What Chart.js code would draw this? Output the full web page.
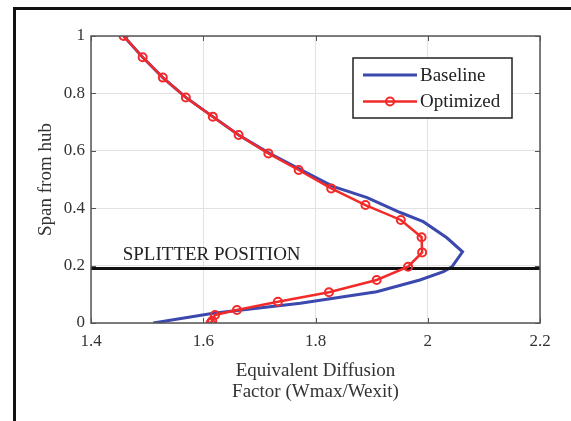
<!DOCTYPE html>
<html>
<head>
<meta charset="utf-8">
<title>Equivalent Diffusion Factor vs span</title>
<script src="https://cdn.jsdelivr.net/npm/chart.js@4.4.1/dist/chart.umd.min.js"></script>
<style>
  html, body { margin: 0; padding: 0; background: #fff; }
  #wrap { position: relative; width: 571px; height: 421px; overflow: hidden; }
  #frame { position: absolute; left: 13px; top: 7px; width: 600px; height: 500px;
           border-top: 3px solid #111; border-left: 3px solid #111; }
  #chart { position: absolute; left: 0; top: 0; }
</style>
</head>
<body>
<div id="wrap">
  <div id="frame"></div>
  <canvas id="chart" width="571" height="421"></canvas>
</div>
<script>
'use strict';

// --- data ---
const baselineX = [1.511, 1.618, 1.773, 1.832, 1.909, 1.986, 2.028, 2.043, 2.062, 2.034,
                   1.992, 1.951, 1.892, 1.831, 1.775, 1.718, 1.663, 1.617, 1.569, 1.528, 1.492, 1.458];
const baselineY = [0, 0.034, 0.069, 0.086, 0.109, 0.150, 0.179, 0.196, 0.248, 0.297,
                   0.353, 0.385, 0.437, 0.476, 0.533, 0.591, 0.655, 0.719, 0.786, 0.855, 0.926, 1.0];

const optimizedX = [1.458, 1.492, 1.528, 1.569, 1.617, 1.663, 1.716, 1.770, 1.828, 1.889, 1.952,
                    1.989, 1.990, 1.965, 1.909, 1.824, 1.733, 1.660, 1.621, 1.616, 1.613];
const optimizedY = [1.0, 0.926, 0.855, 0.786, 0.719, 0.655, 0.591, 0.533, 0.469, 0.411, 0.359,
                    0.299, 0.246, 0.196, 0.150, 0.107, 0.074, 0.045, 0.028, 0.008, 0];

const splitterSpan = 0.19;
const splitterText = 'SPLITTER POSITION';

const seriesNames = ['Baseline', 'Optimized'];
const xTicks = [1.4, 1.6, 1.8, 2.0, 2.2];
const xTickLabels = ['1.4', '1.6', '1.8', '2', '2.2'];
const yTicks = [0, 0.2, 0.4, 0.6, 0.8, 1.0];
const yTickLabels = ['0', '0.2', '0.4', '0.6', '0.8', '1'];
const xTitle = ['Equivalent Diffusion', 'Factor (Wmax/Wexit)'];
const yTitle = 'Span from hub';

// --- styles ---
const FONT = "'Liberation Serif', 'Times New Roman', serif";
const BLUE = '#3b48ae';
const RED = '#f22a2a';
const TEXT = '#333';

const toPoints = (xs, ys) => xs.map((x, i) => ({ x: x, y: ys[i] }));

// MATLAB-like axes box with inward ticks, the splitter label and the in-plot legend
const figureDecor = {
    id: 'figureDecor',
    afterDatasetsDraw(chart) {
        const { ctx, chartArea: a, scales: { x, y } } = chart;
        ctx.save();

        // box
        ctx.strokeStyle = '#555';
        ctx.lineWidth = 1.5;
        ctx.strokeRect(a.left, a.top, a.right - a.left, a.bottom - a.top);

        // inward ticks on all four sides
        const tl = 5;
        ctx.lineWidth = 1;
        ctx.beginPath();
        xTicks.forEach(v => {
            const px = Math.round(x.getPixelForValue(v)) + 0.5;
            ctx.moveTo(px, a.bottom); ctx.lineTo(px, a.bottom - tl);
            ctx.moveTo(px, a.top); ctx.lineTo(px, a.top + tl);
        });
        yTicks.forEach(v => {
            const py = Math.round(y.getPixelForValue(v)) + 0.5;
            ctx.moveTo(a.left, py); ctx.lineTo(a.left + tl, py);
            ctx.moveTo(a.right, py); ctx.lineTo(a.right - tl, py);
        });
        ctx.stroke();

        // splitter label
        ctx.fillStyle = '#222';
        ctx.font = '19px ' + FONT;
        ctx.textAlign = 'left';
        ctx.textBaseline = 'alphabetic';
        ctx.fillText(splitterText, x.getPixelForValue(1.4565), y.getPixelForValue(0.22));

        // legend
        const lx = a.right - 187, ly = a.top + 22, lw = 159, lh = 60;
        ctx.fillStyle = '#fff';
        ctx.fillRect(lx, ly, lw, lh);
        ctx.strokeStyle = '#222';
        ctx.lineWidth = 1.5;
        ctx.strokeRect(lx, ly, lw, lh);

        chart.data.datasets.slice(0, 2).forEach((ds, i) => {
            const rowY = ly + 17 + i * 26.5;
            ctx.strokeStyle = ds.borderColor;
            ctx.lineWidth = ds.borderWidth;
            ctx.beginPath();
            ctx.moveTo(lx + 10, rowY);
            ctx.lineTo(lx + 64, rowY);
            ctx.stroke();
            if (ds.pointRadius > 0) {
                ctx.lineWidth = ds.pointBorderWidth;
                ctx.beginPath();
                ctx.arc(lx + 37, rowY, ds.pointRadius, 0, Math.PI * 2);
                ctx.stroke();
            }
            ctx.fillStyle = '#222';
            ctx.textBaseline = 'middle';
            ctx.fillText(ds.label, lx + 67, rowY + 1);
        });

        ctx.restore();
    }
};

new Chart(document.getElementById('chart'), {
    type: 'scatter',
    data: {
        datasets: [
            {
                label: seriesNames[0],
                data: toPoints(baselineX, baselineY),
                showLine: true,
                borderColor: BLUE,
                borderWidth: 3,
                pointRadius: 0,
                tension: 0,
                order: 3
            },
            {
                label: seriesNames[1],
                data: toPoints(optimizedX, optimizedY),
                showLine: true,
                borderColor: RED,
                borderWidth: 2.5,
                pointRadius: 4,
                pointBorderWidth: 2,
                pointBorderColor: RED,
                pointBackgroundColor: 'rgba(0,0,0,0)',
                tension: 0,
                order: 1
            },
            {
                label: 'splitter',
                data: [{ x: xTicks[0], y: splitterSpan }, { x: xTicks[xTicks.length - 1], y: splitterSpan }],
                showLine: true,
                borderColor: '#111',
                borderWidth: 3,
                pointRadius: 0,
                order: 2
            }
        ]
    },
    options: {
        responsive: false,
        devicePixelRatio: 1,
        animation: false,
        layout: { padding: { left: 0, top: 36, right: 31, bottom: 0 } },
        plugins: {
            legend: { display: false },
            tooltip: { enabled: false }
        },
        scales: {
            x: {
                type: 'linear',
                position: 'bottom',
                min: 1.4,
                max: 2.2,
                afterBuildTicks: s => { s.ticks = xTicks.map(v => ({ value: v })); },
                afterFit: s => { s.height = 98; },
                grid: { color: '#e2e2e2', lineWidth: 1, drawTicks: false },
                border: { display: false },
                ticks: {
                    padding: 8,
                    color: TEXT,
                    font: { family: FONT, size: 17 },
                    callback: (v, i) => xTickLabels[i]
                },
                title: {
                    display: true,
                    text: xTitle,
                    color: TEXT,
                    font: { family: FONT, size: 19, lineHeight: 1.13 },
                    padding: { top: 0, bottom: 18 }
                }
            },
            y: {
                type: 'linear',
                position: 'left',
                min: 0,
                max: 1,
                afterBuildTicks: s => { s.ticks = yTicks.map(v => ({ value: v })); },
                afterFit: s => { s.width = 91; },
                grid: { color: '#e2e2e2', lineWidth: 1, drawTicks: false },
                border: { display: false },
                ticks: {
                    padding: 6,
                    color: TEXT,
                    font: { family: FONT, size: 17 },
                    callback: (v, i) => yTickLabels[i]
                },
                title: {
                    display: true,
                    text: yTitle,
                    color: TEXT,
                    font: { family: FONT, size: 19, lineHeight: 1.2 },
                    padding: { top: 35, bottom: 0 }
                }
            }
        }
    },
    plugins: [figureDecor]
});
</script>
</body>
</html>
